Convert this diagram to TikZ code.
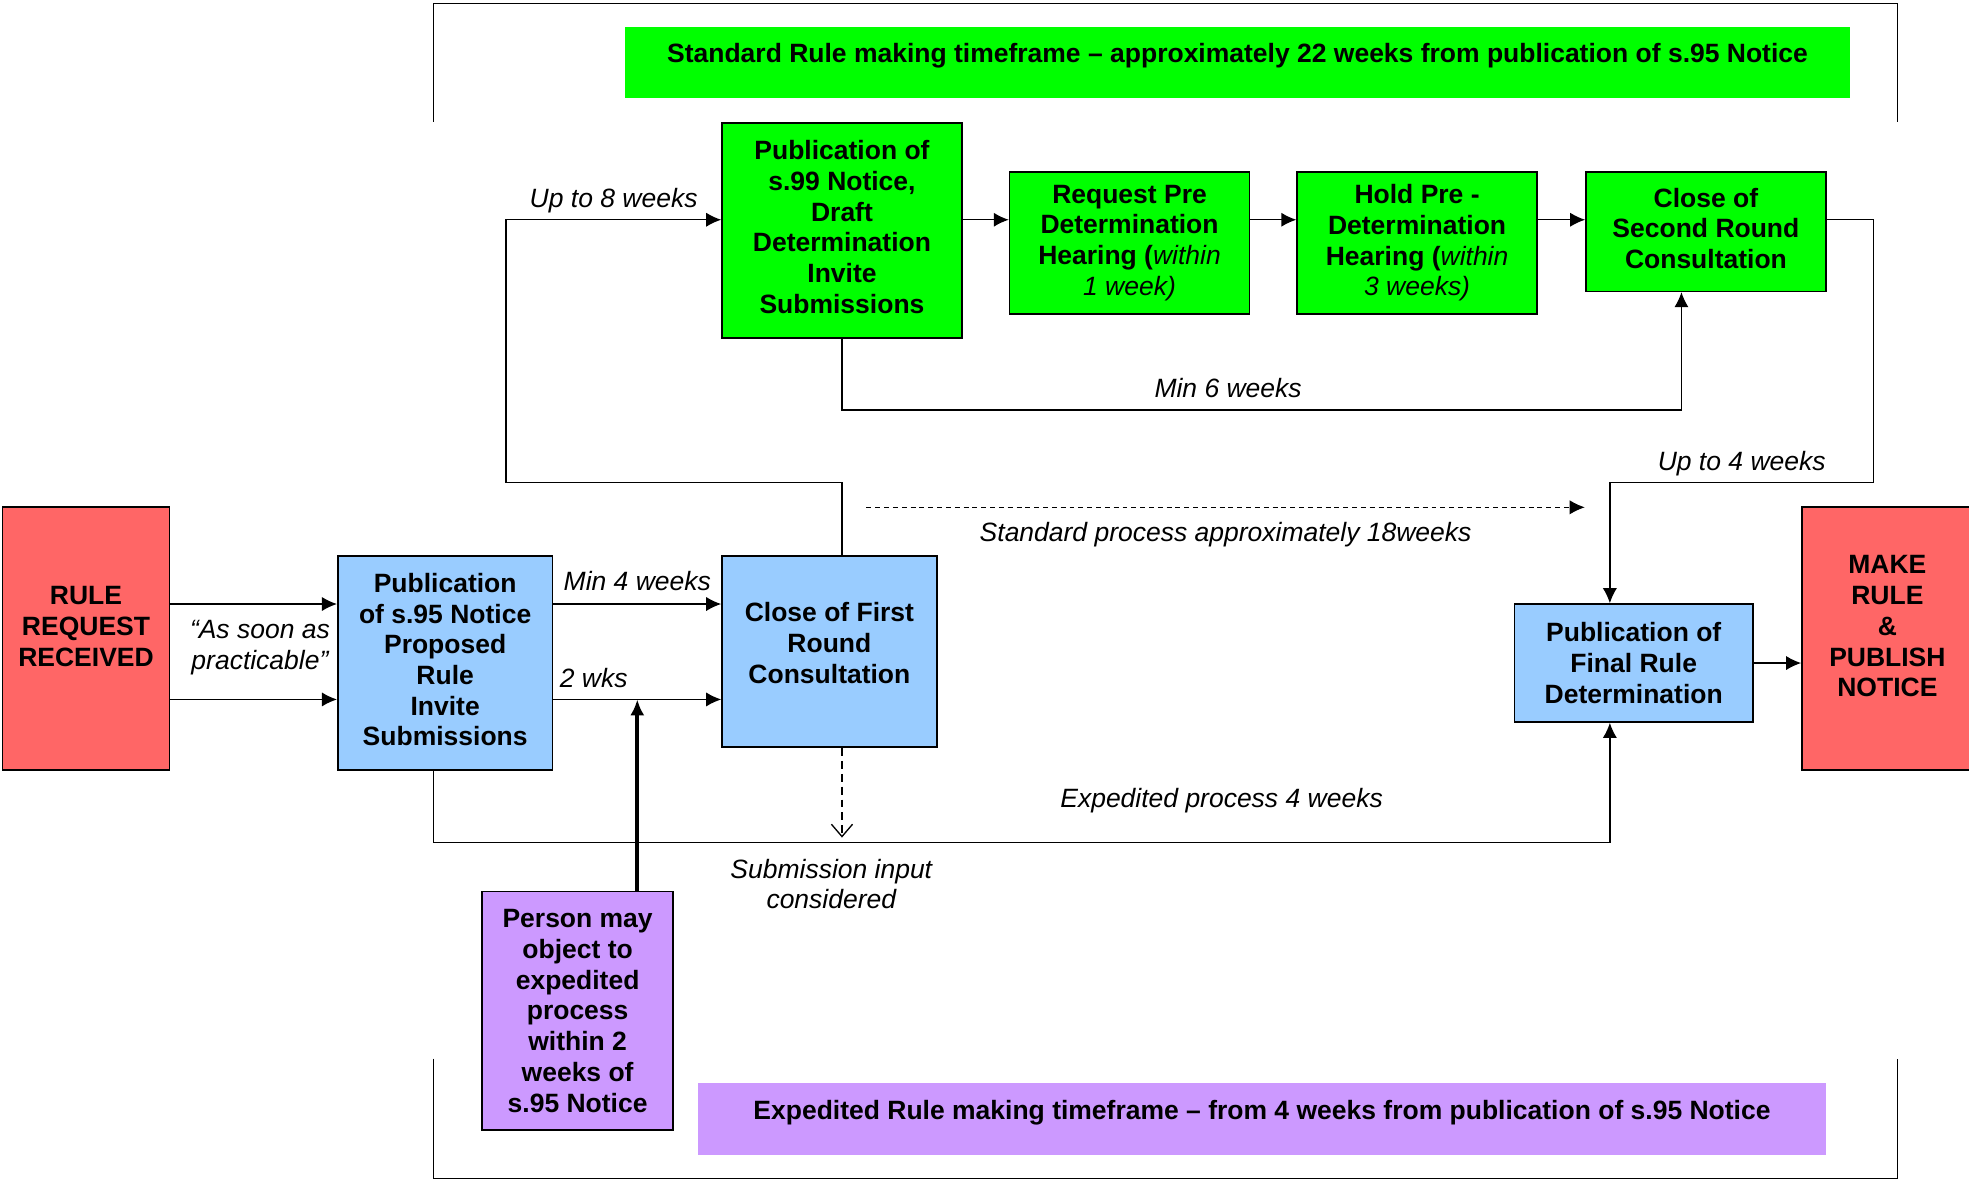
\documentclass[tikz,border=0pt]{standalone}
\usepackage{fontspec}
\setmainfont{Liberation Sans}
\usetikzlibrary{arrows.meta}

\definecolor{rulered}{HTML}{FF6666}
\definecolor{pubblue}{HTML}{99CCFF}
\definecolor{stdgreen}{HTML}{00FF00}
\definecolor{expurple}{HTML}{CC99FF}

\begin{document}
\begin{tikzpicture}[x=0.025cm, y=-0.025cm]
        \tikzset{box/.style = {shape=rectangle, draw, line width=0.9pt, align=center, inner sep=2pt, font=\fontsize{15}{17.4}\selectfont\bfseries}};
        \tikzset{edge/.style = {->, > = {Latex[length=8.5pt, width=8pt]}, line width=0.75pt}};
        \tikzset{note/.style = {font=\fontsize{15}{17.4}\selectfont\itshape, align=center}};
        \tikzset{banner/.style = {inner xsep=0pt, inner ysep=0pt, anchor=base, font=\fontsize{15}{17.4}\selectfont\bfseries}};
        \useasboundingbox (0,0) rectangle (1568,940);
        \draw[line width=0.75pt] (345,97) -- (345,3) -- (1511,3) -- (1511,97);
        \draw[line width=0.75pt] (345,843) -- (345,938.5) -- (1511,938.5) -- (1511,843);
        \node[banner, fill=stdgreen, minimum width=24.375cm, text height=0.69cm, text depth=0.71cm] (stdframe) at (985.5,49.5) {Standard Rule making timeframe – approximately 22 weeks from publication of s.95 Notice};
        \node[banner, fill=expurple, minimum width=22.45cm, text height=0.725cm, text depth=0.7cm] (expframe) at (1005,891.5) {Expedited Rule making timeframe – from 4 weeks from publication of s.95 Notice};
        \node[box, fill=rulered, minimum width=3.325cm, minimum height=5.225cm, text depth=14pt] (rr) at (68.5,508.5) {RULE\\REQUEST\\RECEIVED};
        \node[box, fill=pubblue, minimum width=4.275cm, minimum height=4.25cm, text depth=4pt] (p95) at (354.5,528) {Publication\\of s.95 Notice\\Proposed\\Rule\\Invite\\Submissions};
        \node[box, fill=pubblue, minimum width=4.275cm, minimum height=3.8cm, text depth=10pt] (c1) at (660.5,519) {Close of First\\Round\\Consultation};
        \node[box, fill=stdgreen, minimum width=4.775cm, minimum height=4.275cm, text depth=4pt] (p99) at (670.5,183.5) {Publication of\\s.99 Notice,\\Draft\\Determination\\Invite\\Submissions};
        \node[box, fill=stdgreen, minimum width=4.775cm, minimum height=2.825cm] (req) at (899.5,193.5) {Request Pre\\Determination\\Hearing ({\mdseries\itshape within}\\{\mdseries\itshape 1 week)}};
        \node[box, fill=stdgreen, minimum width=4.775cm, minimum height=2.825cm] (hold) at (1128.5,193.5) {Hold Pre -\\Determination\\Hearing ({\mdseries\itshape within}\\{\mdseries\itshape 3 weeks)}};
        \node[box, fill=stdgreen, minimum width=4.775cm, minimum height=2.375cm, text depth=4pt] (c2) at (1358.5,184.5) {Close of\\Second Round\\Consultation};
        \node[box, fill=pubblue, minimum width=4.75cm, minimum height=2.35cm] (fin) at (1301,528) {Publication of\\Final Rule\\Determination};
        \node[box, fill=rulered, minimum width=3.4cm, minimum height=5.225cm, text depth=14pt] (make) at (1503,508.5) {MAKE\\RULE\\\&\\PUBLISH\\NOTICE};
        \node[box, fill=expurple, minimum width=3.8cm, minimum height=4.75cm] (person) at (460,805) {Person may\\object to\\expedited\\process\\within 2\\weeks of\\s.95 Notice};
        \node[note] (asap) at (207,516) {“As soon as\\practicable”};
        \node[note] (subin) at (662,704) {Submission input\\considered};
        \coordinate (std1) at (690,404);
        \coordinate (std2) at (1262,404);
        \coordinate (subend) at (670.5,667);
        \draw[edge] (rr.east |- 0,481) -- (p95.west |- 0,481);
        \draw[edge] (rr.east |- 0,557) -- (p95.west |- 0,557);
        \draw[edge] (p95.east |- 0,481) -- node[note, above=4pt]{Min 4 weeks} (c1.west |- 0,481);
        \draw[edge] (p95.east |- 0,557) -- node[note, above right, pos=0, yshift=3pt]{2 wks} coordinate[pos=0.5] (obj) (c1.west |- 0,557);
        \draw[edge, line width=2.4pt, > = {Latex[length=9pt, width=8pt]}] (person.north -| obj) -- (obj);
        \draw[edge] (c1.north -| p99.south) -- (670.5,384) -| (403,175) -- node[note, above]{Up to 8 weeks} (p99.west |- 0,175);
        \draw[edge] (p99.east |- 0,175) -- (req.west |- 0,175);
        \draw[edge] (req.east |- 0,175) -- (hold.west |- 0,175);
        \draw[edge] (hold.east |- 0,175) -- (c2.west |- 0,175);
        \draw[edge] (p99.south) |- node[note, above=3pt, pos=0.73]{Min 6 weeks} (1339,326.5) -- (c2.south -| 1339,0);
        \draw[edge] (c2.east |- 0,175) -| (1492,384) -| node[note, above, pos=0.25]{Up to 4 weeks} (fin.north -| 1282,0);
        \draw[edge, line width=0.6pt, dash pattern=on 2.8pt off 2.2pt] (std1) -- node[note, below=5pt]{Standard process approximately 18weeks} (std2);
        \draw[edge, dash pattern=on 4.5pt off 2.8pt, > = {Straight Barb[length=7pt, width=12pt]}] (c1.south -| p99.south) -- (subend);
        \draw[edge] (p95.south -| 345,0) |- node[note, above=0.45cm, pos=0.835]{Expedited process 4 weeks} (1282,671) -- (fin.south -| 1282,0);
        \draw[edge] (fin.east) -- (make.west |- fin.east);
    \end{tikzpicture}
\end{document}
